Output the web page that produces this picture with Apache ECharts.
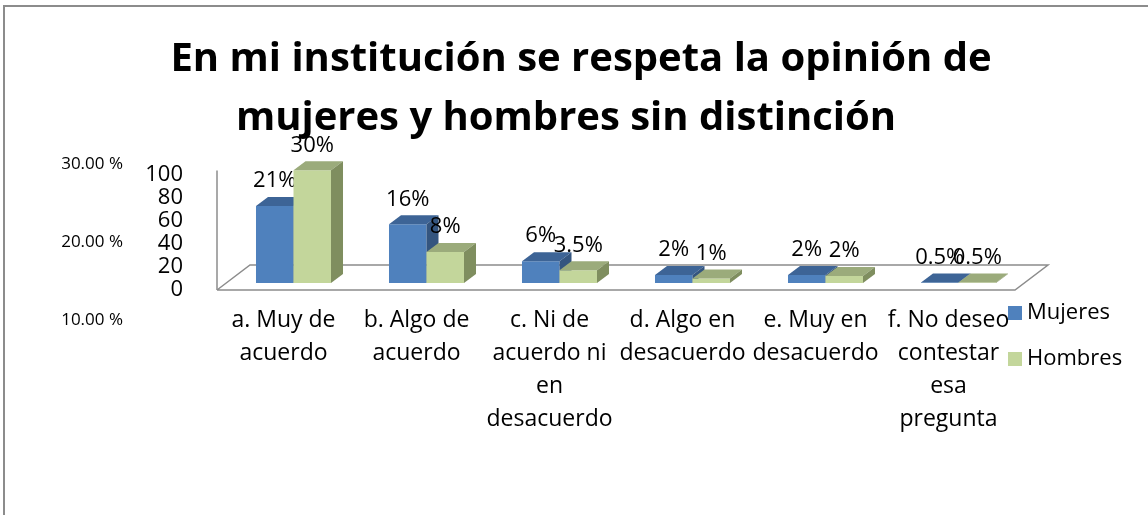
<!DOCTYPE html>
<html>
<head>
<meta charset="utf-8">
<script src="https://cdn.jsdelivr.net/npm/echarts@6/dist/echarts.min.js"></script>
<style>
  html, body { margin: 0; padding: 0; background: #fff; }
  #chart { width: 1148px; height: 515px; }
</style>
</head>
<body>
<div id="chart"></div>
<script>
// categories and values (bar heights in axis units, labels as printed)
const categories = ['a. Muy de\nacuerdo', 'b. Algo de\nacuerdo', 'c. Ni de\nacuerdo ni\nen\ndesacuerdo',
  'd. Algo en\ndesacuerdo', 'e. Muy en\ndesacuerdo', 'f. No deseo\ncontestar\nesa\npregunta'];
const mujeres = [67, 51, 19, 7, 7, 0.5];
const hombres = [98, 27, 11, 4, 6, 0.5];
const mujeresLabels = ['21%', '16%', '6%', '2%', '2%', '0.5%'];
const hombresLabels = ['30%', '8%', '3.5%', '1%', '2%', '0.5%'];
const leftTicks = [10, 20, 30];

const FONT = 'Open Sans';
// 3d look
const depthX = 12, depthY = -9;     // bar depth
const shiftX = 10, shiftY = -7;     // bars sit a bit behind the front edge of the floor
const floorX = 33, floorY = -25;    // floor depth

const styles = [
  { front: '#4F81BD', top: '#3D6496', side: '#34557F' },
  { front: '#C3D69B', top: '#9BAB7B', side: '#7F8E5F' }
];

function barItem(s, labels) {
  return function (params, api) {
    const i = api.value(0);
    const v = api.value(1);
    const p0 = api.coord([i, 0]);
    const pT = api.coord([i, v]);
    const catW = api.size([1, 0])[0];
    const w = catW * 0.282;
    const x0 = p0[0] - w + s * w + shiftX;
    const yB = p0[1] + shiftY;
    const yT = pT[1] + shiftY;
    const c = styles[s];
    return {
      type: 'group',
      children: [
        { type: 'rect', shape: { x: x0, y: yT, width: w, height: yB - yT }, style: { fill: c.front } },
        { type: 'polygon', shape: { points: [[x0, yT], [x0 + w, yT], [x0 + w + depthX, yT + depthY], [x0 + depthX, yT + depthY]] }, style: { fill: c.top } },
        { type: 'polygon', shape: { points: [[x0 + w, yT], [x0 + w + depthX, yT + depthY], [x0 + w + depthX, yB + depthY], [x0 + w, yB]] }, style: { fill: c.side } },
        { type: 'text', z2: 10, style: { text: labels[i], x: x0 + w / 2, y: yT - 25, align: 'center', verticalAlign: 'middle', fontFamily: FONT, fontSize: 22, fill: '#000' } }
      ]
    };
  };
}

function floorItem(params, api) {
  const a = api.coord([0, 0]);
  const b = api.coord([categories.length - 1, 0]);
  const top = api.coord([0, 104]);
  const half = api.size([1, 0])[0] / 2;
  const fl = [a[0] - half, a[1]];
  const fr = [b[0] + half, b[1]];
  const bl = [fl[0] + floorX, fl[1] + floorY];
  const br = [fr[0] + floorX, fr[1] + floorY];
  const ls = { stroke: '#8C8C8C', lineWidth: 1.5, fill: null };
  return {
    type: 'group',
    children: [
      { type: 'polyline', shape: { points: [fl, fr, br, bl, fl] }, style: ls },
      { type: 'line', shape: { x1: fl[0], y1: fl[1], x2: fl[0], y2: top[1] }, style: ls }
    ]
  };
}

const chart = echarts.init(document.getElementById('chart'));
chart.setOption({
  animation: false,
  title: [
    { text: 'En mi institución se respeta la opinión de', left: 576, top: 30, textAlign: 'center',
      textStyle: { fontFamily: FONT, fontWeight: 'bold', fontSize: 40, color: '#000', lineHeight: 50 } },
    { text: 'mujeres y hombres sin distinción', left: 561, top: 89, textAlign: 'center',
      textStyle: { fontFamily: FONT, fontWeight: 'bold', fontSize: 40, color: '#000', lineHeight: 50 } }
  ],
  legend: {
    data: ['Mujeres', 'Hombres'],
    orient: 'vertical', left: 1003, top: 297,
    icon: 'rect', itemWidth: 14, itemHeight: 14, itemGap: 24,
    textStyle: { fontFamily: FONT, fontSize: 22, color: '#000' }
  },
  graphic: [
    { type: 'polyline', shape: { points: [[4, 520], [4, 6], [1160, 6]] }, style: { stroke: '#8C8C8C', lineWidth: 2, fill: null }, silent: true }
  ],
  grid: [
    { left: 217, top: 175, width: 798, height: 115 },
    { left: 131, top: 164, width: 1, height: 156 }
  ],
  xAxis: [
    { type: 'category', gridIndex: 0, data: categories,
      axisLine: { show: false }, axisTick: { show: false },
      axisLabel: { margin: 14, interval: 0, fontFamily: FONT, fontSize: 23, lineHeight: 33, color: '#000' } },
    { type: 'value', gridIndex: 1, min: 0, max: 1, show: false }
  ],
  yAxis: [
    { type: 'value', gridIndex: 0, min: 0, max: 100, interval: 20,
      axisLine: { show: false }, axisTick: { show: false }, splitLine: { show: false },
      axisLabel: { margin: 34, fontFamily: FONT, fontSize: 22, color: '#000' } },
    { type: 'value', gridIndex: 1, min: 10, max: 30, interval: 10,
      axisLine: { show: false }, axisTick: { show: false }, splitLine: { show: false },
      axisLabel: { margin: 8, fontFamily: FONT, fontSize: 17, color: '#000',
        formatter: function (v) { return leftTicks.indexOf(v) >= 0 ? v.toFixed(2) + ' %' : ''; } } }
  ],
  series: [
    { type: 'custom', name: 'floor', renderItem: floorItem, data: [[0, 0]], silent: true, z: 1 },
    { type: 'custom', name: 'Mujeres', renderItem: barItem(0, mujeresLabels), itemStyle: { color: '#4F81BD' },
      data: mujeres.map((v, i) => [i, v]), encode: { x: 0, y: 1 }, z: 2 },
    { type: 'custom', name: 'Hombres', renderItem: barItem(1, hombresLabels), itemStyle: { color: '#C3D69B' },
      data: hombres.map((v, i) => [i, v]), encode: { x: 0, y: 1 }, z: 3 }
  ]
});
</script>
</body>
</html>
